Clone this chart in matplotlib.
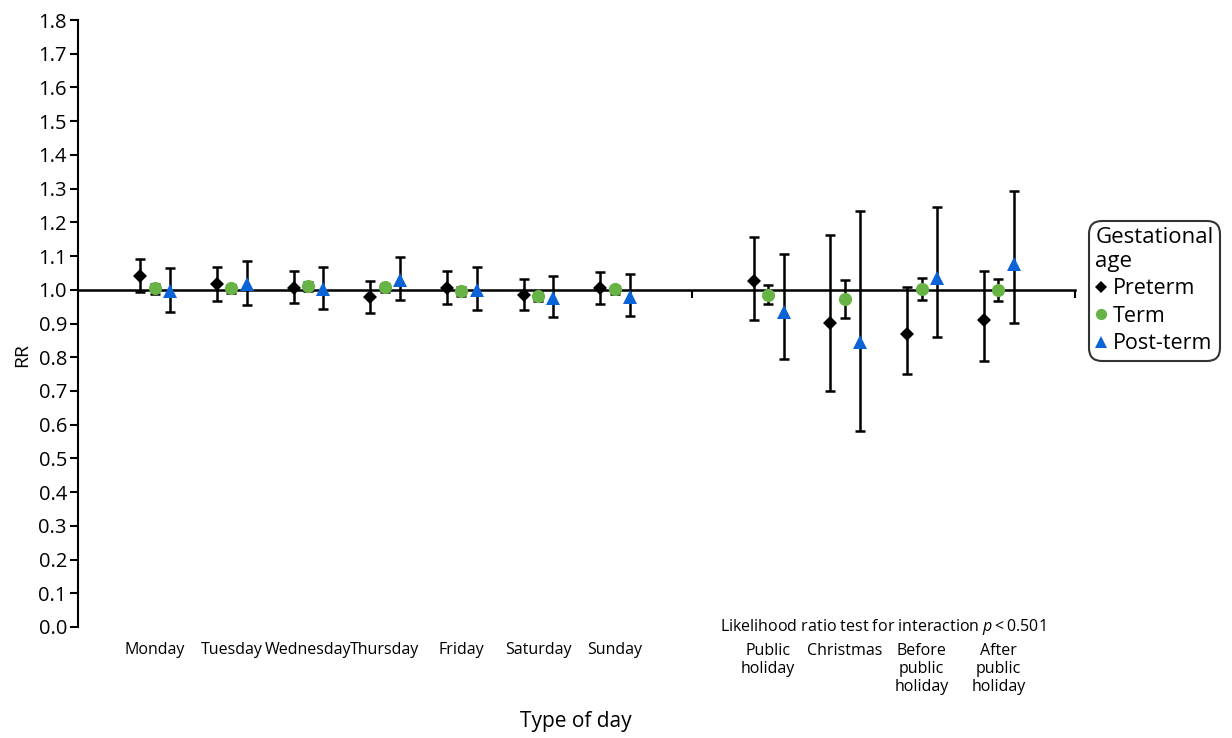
import matplotlib
matplotlib.use('Agg')
import matplotlib.pyplot as plt
from matplotlib.transforms import blended_transform_factory

plt.rcParams['font.family'] = ['Open Sans', 'DejaVu Sans']
plt.rcParams['mathtext.fontset'] = 'custom'
plt.rcParams['mathtext.it'] = 'Open Sans:italic'
plt.rcParams['mathtext.rm'] = 'Open Sans'

weekdays = ['Monday', 'Tuesday', 'Wednesday', 'Thursday', 'Friday', 'Saturday', 'Sunday']
holidays = ['Public\nholiday', 'Christmas', 'Before\npublic\nholiday', 'After\npublic\nholiday']

# RR and 95% CI, weekdays first then holidays
preterm_rr = [1.041, 1.018, 1.006, 0.978, 1.006, 0.985, 1.004, 1.026, 0.902, 0.869, 0.911]
preterm_lo = [0.993, 0.968, 0.962, 0.932, 0.959, 0.940, 0.957, 0.911, 0.700, 0.749, 0.790]
preterm_hi = [1.091, 1.068, 1.056, 1.027, 1.057, 1.032, 1.053, 1.156, 1.163, 1.007, 1.056]

term_rr = [1.005, 1.004, 1.012, 1.007, 0.997, 0.983, 1.001, 0.985, 0.972, 1.003, 0.999]
term_lo = [0.988, 0.989, 0.996, 0.992, 0.982, 0.968, 0.986, 0.958, 0.917, 0.971, 0.968]
term_hi = [1.016, 1.015, 1.023, 1.018, 1.008, 0.994, 1.012, 1.013, 1.028, 1.035, 1.032]

post_rr = [0.996, 1.016, 1.001, 1.029, 0.999, 0.977, 0.980, 0.935, 0.846, 1.034, 1.077]
post_lo = [0.934, 0.954, 0.944, 0.970, 0.939, 0.918, 0.921, 0.794, 0.582, 0.859, 0.901]
post_hi = [1.065, 1.085, 1.068, 1.098, 1.068, 1.040, 1.047, 1.106, 1.234, 1.246, 1.293]

yticks = [round(0.1 * i, 1) for i in range(19)]

# positions: weekdays 0..6, gap at 7, holidays 8..11
xpos = list(range(7)) + [8 + i for i in range(4)]

fig = plt.figure(figsize=(12.32, 7.38), dpi=100)
ax = fig.add_axes([78 / 1232, 1 - 627 / 738, (1075 - 78) / 1232, (627 - 20) / 738])

series = [
    ('Preterm', preterm_rr, preterm_lo, preterm_hi, -0.19, 'D', 'black', 7),
    ('Term', term_rr, term_lo, term_hi, 0.0, 'o', '#67b346', 9.5),
    ('Post-term', post_rr, post_lo, post_hi, 0.2, '^', '#0a64d8', 10),
]

handles = []
for name, rr, lo, hi, off, mk, col, ms in series:
    xs = [x + off for x in xpos]
    yerr = [[r - l for r, l in zip(rr, lo)], [h - r for r, h in zip(rr, hi)]]
    ax.errorbar(xs, rr, yerr=yerr, fmt='none', ecolor='black', elinewidth=1.8,
                capsize=3.5, capthick=1.8, zorder=3)
    h, = ax.plot(xs, rr, linestyle='none', marker=mk, color=col, markersize=ms,
                 markeredgewidth=0, zorder=4)
    handles.append(h)

ax.set_xlim(-1, 12)
ax.set_ylim(0, 1.8)
ax.set_yticks(yticks)
ax.set_yticklabels([f'{t:.1f}' for t in yticks], fontsize=14.5)
ax.tick_params(axis='y', length=6, width=1.5, pad=2)

for s in ['top', 'right']:
    ax.spines[s].set_visible(False)
ax.spines['left'].set_linewidth(1.5)
ax.spines['bottom'].set_position(('data', 1.0))
ax.spines['bottom'].set_linewidth(1.8)
ax.spines['bottom'].set_zorder(2)
ax.set_xticks([7, 12])
ax.set_xticklabels(['', ''])
ax.tick_params(axis='x', length=6, width=1.5)

tr = blended_transform_factory(ax.transData, ax.transAxes)
for i, lab in enumerate(weekdays):
    ax.text(xpos[i], -0.038, lab, transform=tr, ha='center', va='center', fontsize=11.5)
for i, lab in enumerate(holidays):
    ax.text(xpos[7 + i], -0.027, lab, transform=tr, ha='center', va='top', fontsize=11.5,
            linespacing=1.15)
ax.text(9.5, 0.0, r'Likelihood ratio test for interaction $\it{p}$' + '\u2009<\u20090.501',
        transform=tr, ha='center', va='center', fontsize=11.5)

fig.text(576 / 1232, 1 - 721 / 738, 'Type of day', ha='center', va='center', fontsize=15)
fig.text(22 / 1232, 1 - 355 / 738, 'RR', ha='center', va='center', rotation=90, fontsize=14)

leg = fig.legend(handles, ['Preterm', 'Term', 'Post-term'], title='Gestational\nage',
                 loc='upper left', bbox_to_anchor=(1089 / 1232, 1 - 221 / 738),
                 fontsize=15.5, title_fontsize=16, frameon=True, fancybox=True,
                 handlelength=0.55, handletextpad=0.25, borderpad=0.3,
                 labelspacing=0.3, markerscale=0.85, borderaxespad=0)
leg._legend_box.align = 'left'
leg.get_title().set_linespacing(1.15)
leg.get_frame().set_edgecolor('black')
leg.get_frame().set_linewidth(1.5)
leg.get_frame().set_boxstyle('round,pad=0.0,rounding_size=0.6')

fig.savefig('out.png', dpi=100)
